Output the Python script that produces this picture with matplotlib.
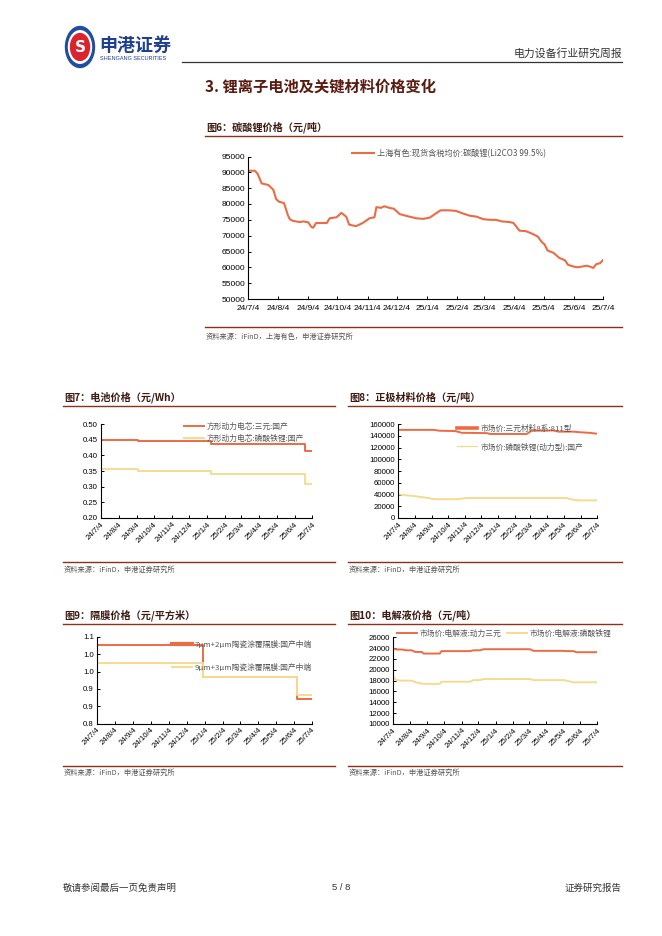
import pandas as pd
import matplotlib.pyplot as plt
from matplotlib.lines import Line2D
from matplotlib.patches import Circle

# ---- page size / colours
W, H = 662, 936
RED = '#EC6B45'
YEL = '#F6DA8F'
CJK = ['Noto Sans CJK SC', 'DejaVu Sans']
NUM = 'Liberation Sans'
plt.rcParams['font.family'] = CJK

# ---- data
tick_dates = pd.to_datetime(['2024-07-04', '2024-08-04', '2024-09-04', '2024-10-04',
                             '2024-11-04', '2024-12-04', '2025-01-04', '2025-02-04',
                             '2025-03-04', '2025-04-04', '2025-05-04', '2025-06-04',
                             '2025-07-04'])
tick_labels = ['24/7/4', '24/8/4', '24/9/4', '24/10/4', '24/11/4', '24/12/4', '25/1/4',
               '25/2/4', '25/3/4', '25/4/4', '25/5/4', '25/6/4', '25/7/4']

# 图6 碳酸锂
li_dates = pd.to_datetime([
    '2024-07-04', '2024-07-11', '2024-07-14', '2024-07-18', '2024-07-25', '2024-07-30',
    '2024-08-02', '2024-08-05', '2024-08-10', '2024-08-14', '2024-08-16', '2024-08-19',
    '2024-08-26', '2024-08-30', '2024-09-04', '2024-09-07', '2024-09-09', '2024-09-12',
    '2024-09-23', '2024-09-26', '2024-10-03', '2024-10-08', '2024-10-13', '2024-10-16',
    '2024-10-20', '2024-10-23', '2024-10-30', '2024-11-06', '2024-11-11', '2024-11-13',
    '2024-11-18', '2024-11-21', '2024-11-26', '2024-12-01', '2024-12-07', '2024-12-17',
    '2024-12-24', '2024-12-31', '2025-01-07', '2025-01-13', '2025-01-18', '2025-01-27',
    '2025-02-03', '2025-02-10', '2025-02-17', '2025-02-24', '2025-03-03', '2025-03-10',
    '2025-03-16', '2025-03-22', '2025-03-30', '2025-04-03', '2025-04-09', '2025-04-16',
    '2025-04-23', '2025-04-28', '2025-05-02', '2025-05-05', '2025-05-08', '2025-05-14',
    '2025-05-20', '2025-05-26', '2025-05-29', '2025-06-03', '2025-06-08', '2025-06-17',
    '2025-06-20', '2025-06-24', '2025-06-27', '2025-07-01', '2025-07-04'])
li_price = [
    90500, 90500, 89500, 86500, 86000, 84500,
    81500, 80700, 80300, 76500, 75200, 74700,
    74300, 74500, 74200, 72800, 72500, 74000,
    74000, 75500, 75800, 77200, 76000, 73500,
    73200, 73000, 74000, 75500, 75800, 79000,
    78800, 79300, 78800, 78500, 76800, 76000,
    75500, 75300, 75700, 77000, 78000, 78000,
    77800, 77000, 76300, 76000, 75200, 75000,
    75000, 74500, 74300, 74000, 71600, 71400,
    70500, 69700, 68000, 67200, 65300, 64600,
    63000, 62200, 60800, 60300, 60000, 60500,
    60300, 59800, 61000, 61300, 62300]

# 图7 电池
cell_dates = pd.to_datetime(['2024-07-04', '2024-09-06', '2025-01-10', '2025-06-22', '2025-07-04'])
cell_ncm = [0.45, 0.445, 0.435, 0.415, 0.415]
cell_lfp = [0.355, 0.35, 0.34, 0.31, 0.31]

# 图8 正极
ncm_dates = pd.to_datetime(['2024-07-04', '2024-09-07', '2024-09-19', '2024-10-17', '2024-10-29',
                            '2024-12-14', '2024-12-20', '2025-02-25', '2025-03-06', '2025-04-15',
                            '2025-04-24', '2025-05-21', '2025-06-02', '2025-06-20', '2025-07-04'])
ncm811 = [150000, 150000, 148500, 148000, 145000, 144500, 143000, 143000, 148500, 149000,
          147000, 147000, 146000, 145000, 143500]
lfp_dates = pd.to_datetime(['2024-07-04', '2024-08-01', '2024-09-01', '2024-09-07', '2024-10-20',
                            '2024-11-07', '2025-05-09', '2025-05-21', '2025-06-02', '2025-07-04'])
lfp_mat = [40000, 37500, 33500, 32000, 32000, 34000, 34000, 31000, 30000, 30000]

# 图9 隔膜
sep_dates = pd.to_datetime(['2024-07-04', '2025-01-01', '2025-06-09', '2025-07-04'])
sep_7_2 = [1.07, 0.96, 0.885, 0.885]
sep_9_3 = [1.01, 0.96, 0.90, 0.90]

# 图10 电解液
ele_dates_a = pd.to_datetime([
    '2024-07-04', '2024-07-11', '2024-07-20', '2024-07-29', '2024-08-07', '2024-08-13',
    '2024-08-25', '2024-08-28', '2024-09-26', '2024-09-29', '2024-11-19', '2024-11-25',
    '2024-12-07', '2024-12-13', '2025-03-06', '2025-03-12', '2025-05-04', '2025-05-10',
    '2025-05-22', '2025-05-28', '2025-07-04'])
ele_ncm = [23950, 23750, 23750, 23600, 23600, 23300, 23300, 23000, 23000, 23450, 23450, 23600,
           23600, 23800, 23800, 23500, 23500, 23450, 23450, 23250, 23250]
ele_dates_b = pd.to_datetime([
    '2024-07-04', '2024-07-11', '2024-07-20', '2024-08-07', '2024-08-13', '2024-08-28',
    '2024-09-26', '2024-09-29', '2024-11-19', '2024-11-25', '2024-12-07', '2024-12-13',
    '2025-03-06', '2025-03-12', '2025-05-04', '2025-05-10', '2025-05-22', '2025-07-04'])
ele_lfp = [18750, 18100, 18000, 18000, 17700, 17400, 17400, 17800, 17800, 18100, 18100, 18300,
           18300, 18100, 18100, 18000, 17700, 17700]

fig = plt.figure(figsize=(W / 100, H / 100), dpi=100)


def fx(x):
    return x / W


def fy(y):
    return 1 - y / H


def px_axes(l, t, r, b):
    return fig.add_axes([fx(l), fy(b), (r - l) / W, (b - t) / H])


def hline(x0, x1, y, color, lw):
    fig.add_artist(Line2D([fx(x0), fx(x1)], [fy(y), fy(y)], color=color, lw=lw,
                          transform=fig.transFigure))


def block_head(x0, x1, y_title, y_line, title):
    fig.text(fx(x0 + 1), fy(y_title), title, fontsize=7.3, fontweight='bold',
             color='#3a1a12', va='center', ha='left')
    hline(x0, x1, y_line, '#8E2F1E', 1.0)


def block_foot(x0, x1, y_line, y_text, text):
    hline(x0, x1, y_line, '#8E2F1E', 1.0)
    fig.text(fx(x0 + 1), fy(y_text), text, fontsize=5.2, color='#555555',
             va='center', ha='left', style='italic')


def style(ax, yticks, ylabels, rot, size=5.6, xpad=2):
    for s in ['top', 'right']:
        ax.spines[s].set_visible(False)
    for s in ['left', 'bottom']:
        ax.spines[s].set_linewidth(0.8)
    ax.set_xlim(tick_dates[0], tick_dates[-1])
    ax.set_xticks(tick_dates)
    if rot:
        ax.set_xticklabels(tick_labels, rotation=45, ha='right', rotation_mode='anchor')
    else:
        ax.set_xticklabels(tick_labels)
    ax.set_yticks(yticks)
    ax.set_yticklabels(ylabels)
    ax.set_ylim(yticks[0], yticks[-1])
    ax.tick_params(direction='in', length=2.5, width=0.7, labelsize=size, pad=2)
    ax.tick_params(axis='x', pad=xpad)
    for lbl in ax.get_xticklabels() + ax.get_yticklabels():
        lbl.set_fontfamily(NUM)


# ---- page header
fig.add_artist(Circle((fx(80), fy(47)), 14.5 / W, color='#1F4E9E', transform=fig.transFigure))
fig.add_artist(Circle((fx(80), fy(47)), 11.5 / W, color='white', transform=fig.transFigure))
fig.add_artist(Circle((fx(80), fy(47)), 9.5 / W, color='#D9232E', transform=fig.transFigure))
fig.text(fx(80), fy(47.5), 'S', fontsize=11, fontweight='bold', color='white',
         ha='center', va='center', family='DejaVu Sans')
fig.text(fx(99), fy(45), '申港证券', fontsize=13, fontweight='bold', color='#1F3F8F',
         ha='left', va='center')
fig.text(fx(100), fy(58), 'SHENGANG SECURITIES', fontsize=4, color='#1F3F8F',
         ha='left', va='center', family=NUM)
hline(182, 622, 62, '#333333', 0.9)
fig.text(fx(622), fy(53), '电力设备行业研究周报', fontsize=7.8, color='#333333',
         ha='right', va='center')
fig.text(fx(205), fy(87), '3. 锂离子电池及关键材料价格变化', fontsize=11, fontweight='bold',
         color='#5a1a10', ha='left', va='center')

# ---- 图6
block_head(205, 622, 127, 136, '图6：碳酸锂价格（元/吨）')
ax6 = px_axes(248, 156.5, 603, 299)
ax6.plot(li_dates, li_price, color=RED, lw=1.5, label='上海有色:现货含税均价:碳酸锂(Li2CO3 99.5%)')
style(ax6, list(range(50000, 95001, 5000)), [str(v) for v in range(50000, 95001, 5000)],
      False, 6.0, 4.5)
ax6.legend(loc='upper left', bbox_to_anchor=(fx(352), fy(149)), bbox_transform=fig.transFigure,
           frameon=False, fontsize=5.9, handlelength=2.7, handletextpad=0.3,
           borderpad=0, borderaxespad=0, labelcolor='#555555')
block_foot(205, 622, 327, 337, '资料来源：iFinD，上海有色，申港证券研究所')

# ---- 图7
block_head(63, 335, 397, 406, '图7：电池价格（元/Wh）')
ax7 = px_axes(100.7, 424, 312, 518)
ax7.plot(cell_dates, cell_ncm, color=RED, lw=1.4, drawstyle='steps-post', label='方形动力电芯:三元:国产')
ax7.plot(cell_dates, cell_lfp, color=YEL, lw=1.4, drawstyle='steps-post', label='方形动力电芯:磷酸铁锂:国产')
y7 = [0.20, 0.25, 0.30, 0.35, 0.40, 0.45, 0.50]
style(ax7, y7, [f'{v:.2f}' for v in y7], True)
ax7.legend(loc='upper left', bbox_to_anchor=(fx(184), fy(423)), bbox_transform=fig.transFigure,
           frameon=False, fontsize=5.6, handlelength=2.6, handletextpad=0.3, labelspacing=0.5,
           borderpad=0, borderaxespad=0, labelcolor='#555555')
block_foot(63, 335, 562, 570, '资料来源：iFinD，申港证券研究所')

# ---- 图8
block_head(348, 622, 397, 406, '图8：正极材料价格（元/吨）')
ax8 = px_axes(398, 424, 597, 518)
ax8.plot(ncm_dates, ncm811, color=RED, lw=1.4, label='市场价:三元材料8系:811型')
ax8.plot(lfp_dates, lfp_mat, color=YEL, lw=1.4, label='市场价:磷酸铁锂(动力型):国产')
y8 = list(range(0, 160001, 20000))
style(ax8, y8, [str(v) for v in y8], True)
leg8 = ax8.legend(loc='upper left', bbox_to_anchor=(fx(457), fy(424.5)), bbox_transform=fig.transFigure,
                  frameon=False, fontsize=5.6, handlelength=2.6, handletextpad=0.4, labelspacing=1.3,
                  borderpad=0, borderaxespad=0, labelcolor='#555555')
leg8.legend_handles[0].set_linewidth(2.6)
leg8.legend_handles[1].set_linewidth(0.9)
block_foot(348, 622, 562, 570, '资料来源：iFinD，申港证券研究所')

# ---- 图9
block_head(63, 335, 615, 624, '图9：隔膜价格（元/平方米）')
ax9 = px_axes(96.7, 636.7, 311.7, 723.7)
ax9.plot(sep_dates, sep_7_2, color=RED, lw=1.4, drawstyle='steps-post', label='7μm+2μm陶瓷涂覆隔膜:国产中端')
ax9.plot(sep_dates, sep_9_3, color=YEL, lw=1.4, drawstyle='steps-post', label='9μm+3μm陶瓷涂覆隔膜:国产中端')
y9 = [0.80, 0.86, 0.92, 0.98, 1.04, 1.10]
style(ax9, y9, [f'{v:.1f}' for v in y9], True)
leg9 = ax9.legend(loc='upper left', bbox_to_anchor=(fx(172), fy(640.5)), bbox_transform=fig.transFigure,
                  frameon=False, fontsize=5.6, handlelength=2.6, handletextpad=0.3, labelspacing=1.95,
                  borderpad=0, borderaxespad=0, labelcolor='#555555')
leg9.legend_handles[0].set_linewidth(3)
block_foot(63, 335, 766, 773, '资料来源：iFinD，申港证券研究所')

# ---- 图10
block_head(348, 622, 615, 624, '图10：电解液价格（元/吨）')
ax10 = px_axes(392.7, 637.3, 597.3, 724)
ax10.plot(ele_dates_a, ele_ncm, color=RED, lw=1.4, label='市场价:电解液:动力三元')
ax10.plot(ele_dates_b, ele_lfp, color=YEL, lw=1.4, label='市场价:电解液:磷酸铁锂')
y10 = list(range(10000, 26001, 2000))
style(ax10, y10, [str(v) for v in y10], True)
ax10.legend(loc='upper left', bbox_to_anchor=(fx(397), fy(629.5)), bbox_transform=fig.transFigure,
            frameon=False, fontsize=5.6, handlelength=2.6, handletextpad=0.3, ncol=2,
            columnspacing=0.7, borderpad=0, borderaxespad=0, labelcolor='#555555')
block_foot(348, 622, 766, 773, '资料来源：iFinD，申港证券研究所')

# ---- page footer
fig.text(fx(63), fy(888), '敬请参阅最后一页免责声明', fontsize=6.8, color='#333333', ha='left', va='center')
fig.text(fx(341), fy(888), '5 / 8', fontsize=6.8, color='#333333', ha='center', va='center', family=NUM)
fig.text(fx(622), fy(888), '证券研究报告', fontsize=6.8, color='#333333', ha='right', va='center')

fig.savefig('out.png', dpi=100)
